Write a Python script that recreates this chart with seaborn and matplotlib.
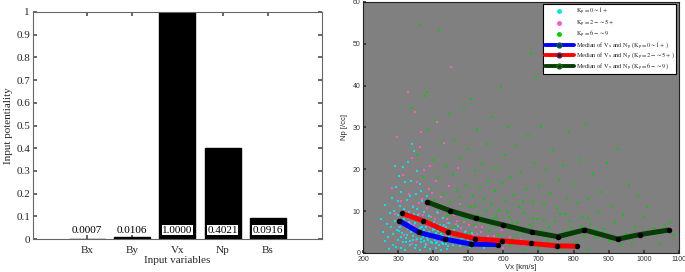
import numpy as np
import pandas as pd
import matplotlib
matplotlib.use("Agg")
import matplotlib.pyplot as plt
from matplotlib.lines import Line2D
import seaborn as sns

# ---------------- data ----------------
variables = ["Bx", "By", "Vx", "Np", "Bs"]
potentiality = [0.0007, 0.0106, 1.0000, 0.4021, 0.0916]
pot_labels = ["0.0007", "0.0106", "1.0000", "0.4021", "0.0916"]

cyan_vx = [305, 312, 318, 322, 327, 331, 335, 338, 342, 346, 349, 353, 357, 360, 364, 367, 371, 375, 378, 382,
           386, 389, 393, 397, 401, 405, 409, 413, 417, 421, 425, 429, 433, 437, 441, 445, 449, 453, 457, 461,
           466, 471, 476, 481, 486, 492, 498, 505, 512, 520, 528, 537, 546, 558,
           252, 258, 263, 268, 272, 276, 280, 283, 286, 289, 292, 295, 297, 299, 301, 303, 306, 309, 313, 316,
           320, 324, 328, 333, 337, 341, 345, 350, 355, 361, 368, 374, 381, 388, 395, 402, 410, 418, 427, 436,
           446, 458, 472, 490, 510,
           308, 320, 334, 348, 362, 376, 392, 407, 423, 440, 300, 315, 330, 344, 358, 372, 385, 399, 414, 430,
           285, 293, 262, 275, 340, 290, 355, 365,
           303, 309, 316, 321, 326, 332, 337, 343, 347, 352, 356, 361, 366, 370, 374, 379, 383, 388, 392, 396,
           400, 404, 408, 412, 416, 420, 424, 428, 432, 436, 444, 452, 460, 468, 478, 488, 500, 515, 530, 545]
cyan_np = [6.2, 4.8, 8.1, 3.5, 5.7, 7.4, 2.9, 6.6, 4.1, 9.3, 5.2, 3.3, 7.8, 4.6, 2.5, 6.1, 3.9, 5.4, 2.2, 4.8,
           3.1, 6.9, 2.7, 4.2, 3.6, 5.8, 2.4, 3.8, 1.9, 4.5, 3.0, 2.1, 5.1, 2.8, 1.7, 3.9, 2.5, 4.4, 1.8, 3.2,
           2.3, 4.0, 1.6, 2.9, 3.6, 2.0, 3.1, 1.5, 2.6, 3.4, 1.9, 2.4, 1.3, 2.0,
           8.2, 5.1, 11.5, 7.0, 3.8, 9.6, 6.3, 13.2, 4.5, 10.1, 7.7, 15.8, 5.5, 12.4, 9.0, 18.3, 11.2, 14.6, 20.5, 10.4,
           16.9, 12.7, 21.8, 13.5, 17.2, 11.0, 24.3, 14.1, 10.6, 16.4, 12.3, 9.8, 13.7, 8.9, 11.4, 7.5, 9.9, 6.8, 8.3, 6.2,
           7.1, 5.6, 6.4, 5.0, 4.7,
           1.2, 0.8, 1.9, 1.1, 0.6, 1.4, 0.9, 1.3, 0.7, 0.9, 3.1, 2.6, 9.8, 8.4, 9.1, 8.0, 7.2, 6.0, 5.3, 6.7,
           2.0, 1.5, 2.8, 0.9, 26.0, 20.8, 19.5, 14.8,
           5.3, 3.9, 6.8, 2.6, 4.4, 8.7, 5.0, 3.2, 7.2, 2.0, 4.9, 5.9, 3.4, 7.1, 2.8, 6.2, 3.6, 5.1, 4.0, 2.3,
           5.5, 3.2, 4.7, 2.6, 3.3, 6.1, 2.4, 4.1, 3.5, 2.2, 3.0, 2.7, 4.9, 2.4, 3.3, 2.7, 2.2, 2.9, 2.2, 1.8]

mag_vx = [283, 290, 296, 302, 308, 314, 318, 323, 327, 331, 335, 339, 343, 347, 351, 355, 359, 363, 367, 371,
          375, 379, 383, 387, 391, 395, 399, 403, 407, 411, 415, 419, 423, 427, 431, 435, 440, 445, 450, 455,
          460, 465, 470, 476, 482, 488, 494, 500, 507, 514, 521, 528, 536, 544, 553, 562, 572, 583, 595, 607,
          620, 452, 430, 410, 470, 392, 365, 350, 340, 380, 420, 520, 600, 640, 660,
          330, 345, 360, 372, 385, 397, 405, 418, 428, 438, 448, 458, 468, 478, 490, 502, 512, 525, 540, 555,
          570, 585, 610, 630, 650]
mag_np = [15.6, 9.2, 27.8, 6.1, 12.4, 18.7, 4.3, 9.9, 38.5, 14.2, 7.1, 22.6, 11.3, 33.6, 5.8, 16.9, 9.4, 25.4, 13.0, 7.6,
          19.8, 4.9, 10.8, 15.2, 6.3, 8.7, 12.1, 4.4, 17.3, 7.0, 9.6, 3.8, 13.4, 6.4, 10.2, 4.1, 8.1, 15.9, 5.6, 3.2,
          9.0, 6.9, 4.6, 11.8, 3.5, 7.5, 5.2, 2.8, 8.9, 4.3, 6.1, 2.5, 5.0, 3.6, 7.3, 2.2, 4.1, 3.0, 5.4, 2.4,
          3.7, 44.5, 26.3, 31.2, 20.4, 20.9, 29.0, 3.0, 2.2, 2.0, 2.9, 1.6, 1.2, 2.3, 1.8,
          8.4, 6.6, 11.9, 9.1, 6.8, 14.3, 8.0, 11.1, 5.4, 7.2, 9.6, 4.8, 7.7, 5.9, 4.2, 6.6, 3.9, 4.5, 6.3, 4.0,
          3.3, 2.6, 3.1, 2.7, 3.0]

grn_vx = [340, 355, 362, 370, 377, 382, 386, 390, 394, 398, 402, 405, 409, 413, 417, 420, 424, 428, 432, 436,
          440, 444, 448, 452, 456, 460, 464, 468, 472, 476, 480, 484, 488, 492, 496, 500, 504, 508, 512, 516,
          520, 524, 528, 532, 536, 540, 544, 548, 552, 556, 560, 564, 568, 572, 576, 580, 584, 588, 592, 596,
          600, 604, 608, 612, 616, 620, 625, 630, 635, 640, 645, 650, 655, 660, 665, 670, 675, 680, 684, 688,
          693, 697, 702, 707, 712, 717, 722, 728, 734, 740, 746, 752, 758, 764, 770, 776, 782, 788, 794, 800,
          806, 812, 818, 824, 830, 836, 842, 848, 855, 862, 870, 878, 886, 894, 902, 910, 918, 926, 934, 942,
          950, 958, 966, 975, 984, 993, 1002, 1010, 1020, 1030, 1045, 1060, 1075, 1082,
          560, 620, 700, 760, 840, 660, 590, 730, 650, 540,
          430, 445, 460, 475, 490, 505, 520, 535, 550, 565, 580, 595, 610, 625, 640, 655, 670, 685, 700, 715,
          730, 745, 760, 775, 790, 805, 820, 840, 860, 880]
grn_np = [34.6, 23.5, 54.5, 18.2, 37.4, 38.4, 29.5, 15.4, 8.2, 22.1, 12.6, 31.8, 6.4, 17.8, 53.3, 10.5, 26.4, 4.8, 14.2, 20.7,
          8.9, 33.2, 12.1, 5.7, 18.6, 27.0, 9.8, 15.1, 3.9, 22.8, 11.4, 7.3, 35.0, 16.3, 4.5, 24.9, 10.9, 36.7, 13.6, 6.8,
          19.5, 29.7, 9.1, 15.8, 3.6, 21.3, 12.8, 7.9, 26.1, 17.2, 5.3, 11.7, 32.5, 8.4, 14.9, 20.2, 4.2, 10.3, 39.7, 16.7,
          6.1, 23.4, 12.5, 30.1, 8.7, 18.1, 3.4, 13.8, 25.6, 7.2, 11.0, 19.3, 4.9, 9.5, 15.4, 28.3, 6.6, 47.8, 12.2, 21.6,
          42.0, 8.1, 16.0, 30.0, 5.2, 11.6, 19.9, 3.1, 14.3, 24.6, 7.7, 10.8, 17.5, 4.4, 21.0, 9.2, 13.1, 28.9, 6.0, 16.4,
          2.5, 11.9, 22.3, 8.5, 4.0, 30.8, 12.9, 6.9, 18.8, 3.7, 9.7, 14.6, 5.8, 21.5, 2.8, 11.3, 7.4, 24.8, 1.9, 9.0,
          4.6, 16.2, 2.4, 6.3, 13.5, 3.9, 8.6, 10.9, 4.7, 5.9, 2.2, 6.8, 7.5, 4.2,
          1.5, 2.0, 1.2, 0.9, 0.6, 0.8, 2.8, 2.3, 2.6, 1.8,
          7.0, 9.4, 6.1, 13.3, 8.0, 5.0, 11.2, 7.4, 10.0, 6.5, 8.9, 5.6, 9.9, 6.9, 4.3, 12.4, 5.5, 8.2, 4.8, 7.9,
          6.1, 3.8, 9.3, 5.1, 7.6, 4.5, 6.4, 8.4, 5.4, 4.9]

med0_vx = [303, 360, 433, 509, 585]
med0_np = [7.7, 4.9, 3.3, 2.1, 2.0]
med1_vx = [310, 371, 442, 519, 596, 678, 752, 811]
med1_np = [9.5, 7.7, 5.0, 3.4, 2.9, 2.3, 1.7, 1.6]
med2_vx = [382, 448, 521, 599, 681, 755, 831, 926, 989, 1073]
med2_np = [12.2, 10.1, 8.3, 6.7, 5.0, 3.9, 5.5, 3.3, 4.4, 5.5]

# ---------------- style ----------------
sns.set_theme(style="white")
plt.rcParams["font.family"] = ["Liberation Serif", "DejaVu Serif"]
plt.rcParams["mathtext.fontset"] = "stix"

fig = plt.figure(figsize=(6.85, 2.72), dpi=100)

# ---------------- left: bar chart ----------------
ax1 = fig.add_axes([0.048, 0.121, 0.422, 0.835])
df_bar = pd.DataFrame({"var": variables, "pot": potentiality})
sns.barplot(data=df_bar, x="var", y="pot", color="black", width=0.8, ax=ax1,
            saturation=1, edgecolor="black")
ax1.set_xlim(-1.2, 5.2)
ax1.set_ylim(0, 1)
ax1.set_yticks(np.arange(0, 1.01, 0.1))
ax1.set_yticklabels(["0", "0.1", "0.2", "0.3", "0.4", "0.5", "0.6", "0.7", "0.8", "0.9", "1"])
for i, lab in enumerate(pot_labels):
    ax1.text(i, 0.04, lab, ha="center", va="center", fontsize=8, color="black",
             bbox=dict(boxstyle="square,pad=0.05", fc="white", ec="none"))
ax1.set_xlabel("Input variables", fontsize=8, labelpad=1)
ax1.set_ylabel("Input potentiality", fontsize=8, labelpad=2)
ax1.tick_params(axis="both", labelsize=8, direction="in", length=3, color="#555555",
                top=True, right=True, bottom=True, left=True)
ax1.tick_params(axis="x", pad=5)
ax1.tick_params(axis="y", pad=2)
for s in ax1.spines.values():
    s.set_color("#666666")
    s.set_linewidth(0.8)

# ---------------- right: scatter ----------------
ax2 = fig.add_axes([0.530, 0.070, 0.461, 0.923])
ax2.set_facecolor("#808080")
c_cyan, c_mag, c_grn = "#00e5f0", "#ff55cc", "#00d000"
sns.scatterplot(x=grn_vx, y=grn_np, color=c_grn, marker="s", s=3.5, linewidth=0, ax=ax2, legend=False)
sns.scatterplot(x=mag_vx, y=mag_np, color=c_mag, marker="s", s=3.5, linewidth=0, ax=ax2, legend=False)
sns.scatterplot(x=cyan_vx, y=cyan_np, color=c_cyan, marker="s", s=3.5, linewidth=0, ax=ax2, legend=False)

lw = 3.6
for vx, npv, col in [(med0_vx, med0_np, "#0000ff"), (med1_vx, med1_np, "#ff0000"),
                     (med2_vx, med2_np, "#053d05")]:
    sns.lineplot(x=vx, y=npv, color=col, lw=lw, sort=False, ax=ax2, legend=False,
                 marker="o", markersize=3.2, markerfacecolor="black", markeredgecolor="black",
                 solid_capstyle="butt")

ax2.set_xlim(200, 1100)
ax2.set_ylim(0, 60)
ax2.set_xticks(range(200, 1101, 100))
ax2.set_yticks(range(0, 61, 10))
ax2.tick_params(axis="both", labelsize=5, direction="in", length=2,
                bottom=True, left=True, colors="#333333")
ax2.tick_params(axis="x", pad=2.5)
ax2.tick_params(axis="y", pad=2)
for lab in ax2.get_xticklabels() + ax2.get_yticklabels():
    lab.set_family(["Liberation Sans", "DejaVu Sans"])
ax2.set_xlabel("Vx [km/s]", fontsize=5.5, family=["Liberation Sans", "DejaVu Sans"], labelpad=0.5)
ax2.set_ylabel("Np [/cc]", fontsize=5.5, family=["Liberation Sans", "DejaVu Sans"], labelpad=3)
for s in ax2.spines.values():
    s.set_color("#222222")
    s.set_linewidth(0.8)

handles = [
    Line2D([], [], ls="none", marker="o", ms=2.5, mfc=c_cyan, mec=c_cyan),
    Line2D([], [], ls="none", marker="o", ms=2.5, mfc=c_mag, mec=c_mag),
    Line2D([], [], ls="none", marker="o", ms=2.5, mfc=c_grn, mec=c_grn),
    Line2D([], [], color="#0000ff", lw=2.8, marker="o", ms=3.5, mfc="#053d3d", mec="#0b5a5a"),
    Line2D([], [], color="#ff0000", lw=2.8, marker="o", ms=3.5, mfc="#3a0a2a", mec="#5a2a4a"),
    Line2D([], [], color="#053d05", lw=2.8, marker="o", ms=3.5, mfc="#053d05", mec="#1a6a1a"),
]
labels = [
    r"$\mathrm{K_p} = 0 \sim 1+$",
    r"$\mathrm{K_p} = 2- \sim 5+$",
    r"$\mathrm{K_p} = 6- \sim 9$",
    r"Median of $\mathrm{V_x}$ and $\mathrm{N_p}$ ($\mathrm{K_p} = 0 \sim 1+$)",
    r"Median of $\mathrm{V_x}$ and $\mathrm{N_p}$ ($\mathrm{K_p} = 2- \sim 5+$)",
    r"Median of $\mathrm{V_x}$ and $\mathrm{N_p}$ ($\mathrm{K_p} = 6- \sim 9$)",
]
leg = ax2.legend(handles, labels, loc="upper right", frameon=True, fancybox=False,
                 framealpha=1, edgecolor="black", borderpad=0.3, labelspacing=0.0,
                 handlelength=4.6, handletextpad=0.3, borderaxespad=0.4,
                 prop={"family": ["Liberation Serif"], "size": 4.5})
leg.get_frame().set_linewidth(0.8)

fig.savefig("out.png", dpi=100)
